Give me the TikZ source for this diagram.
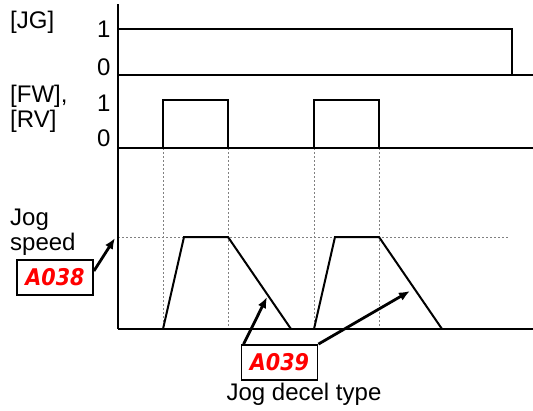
\documentclass[tikz,border=0pt]{standalone}
\usepackage{fontspec}
\setmainfont{Liberation Sans}
\newfontfamily\segfont{DejaVu Sans Condensed}
\usetikzlibrary{arrows.meta}
\begin{document}
\begin{tikzpicture}[x=1pt,y=-1pt,
 sig/.style={line width=2pt},
 gridline/.style={gray, line width=0.8pt, dash pattern=on 2pt off 2pt},
 lbl/.style={anchor=base west, inner sep=0pt, font=\fontsize{24}{26}\selectfont},
 param/.style={draw, line width=1.8pt, minimum width=76pt, minimum height=35pt, inner sep=0pt, font=\segfont\bfseries\itshape\fontsize{23}{23}\selectfont, text=red},
 arr/.style={line width=2.8pt, -{Latex[length=11pt,width=9pt]}}]
\useasboundingbox (0,0) rectangle (533,410);
% grid
\draw[gridline] (163,148) -- (163,329);
\draw[gridline] (228,148) -- (228,329);
\draw[gridline] (314,148) -- (314,329);
\draw[gridline] (379,148) -- (379,329);
\draw[gridline] (118,237) -- (508,237);
% axis
\draw[sig] (118,4) -- (118,329);
% JG
\draw[sig] (118,29) -- (512,29) -- (512,75);
\draw[sig] (118,75) -- (533,75);
% FW/RV
\draw[sig] (118,148) -- (533,148);
\draw[sig] (163,148) -- (163,100) -- (228,100) -- (228,148);
\draw[sig] (314,148) -- (314,100) -- (379,100) -- (379,148);
% speed
\draw[sig] (118,329) -- (533,329);
\draw[sig] (163,329) -- (184,237) -- (228,237) -- (291,329);
\draw[sig] (314,329) -- (335,237) -- (379,237) -- (442,329);
% labels
\node[lbl] (jg) at (10,28) {[JG]};
\node[lbl] (jg1) at (97,37) {1};
\node[lbl] (jg0) at (97,75) {0};
\node[lbl] (fw) at (10,102) {[FW],};
\node[lbl] (rv) at (10,127) {[RV]};
\node[lbl] (fw1) at (97,111) {1};
\node[lbl] (fw0) at (97,146) {0};
\node[lbl] (jog) at (10,225) {Jog};
\node[lbl] (speed) at (10,250) {speed};
\node[lbl, anchor=base] (decel) at (304,400) {Jog decel type};
% parameter boxes
\node[param] (a038) at (55,277.5) {A038};
\node[param] (a039) at (279.5,362.5) {A039};
\coordinate (t1) at (115,238);
\coordinate (t2) at (267,297);
\coordinate (t3) at (410,291);
\draw[arr] ([yshift=6.5pt]a038.east) -- (t1);
\draw[arr] ([xshift=3pt]a039.north west) -- (t2);
\draw[arr] (a039.north east) -- (t3);
\end{tikzpicture}
\end{document}
